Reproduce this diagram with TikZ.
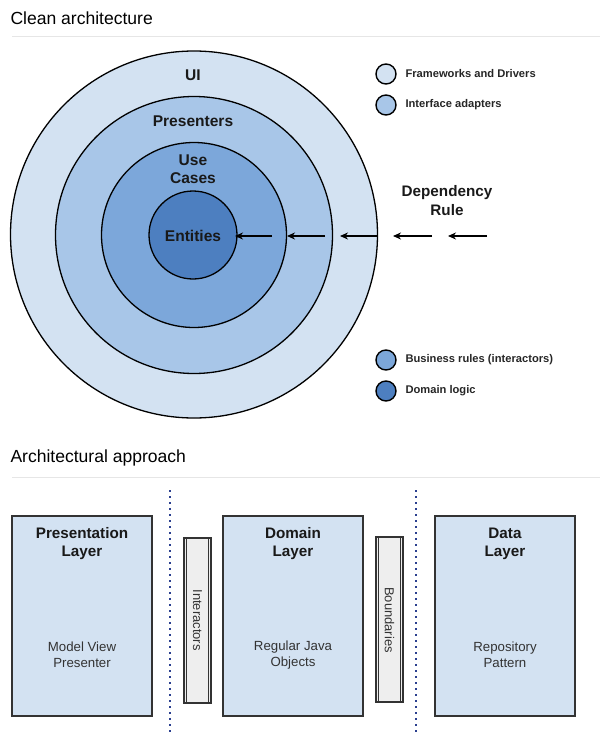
\documentclass[tikz,border=0pt]{standalone}
\usepackage{fontspec}
\setmainfont{Liberation Sans}
\usetikzlibrary{arrows.meta}
\definecolor{cUI}{HTML}{D3E2F2}
\definecolor{cPres}{HTML}{A8C6E8}
\definecolor{cUse}{HTML}{7CA7DA}
\definecolor{cEnt}{HTML}{4D7FC0}
\definecolor{cRule}{HTML}{E6E6E6}
\definecolor{cDot}{HTML}{2B3F8F}
\definecolor{cBar}{HTML}{EEEEEE}
\tikzset{
  ring/.style={circle, draw=black, line width=1.3bp, inner sep=0pt},
  ringlabel/.style={font=\fontsize{15.6}{18}\selectfont\bfseries, align=center, text=black!90},
  legdot/.style={circle, draw=black, line width=1.4bp, minimum size=20bp, inner sep=0pt},
  legtext/.style={anchor=west, font=\fontsize{11.2}{13}\selectfont\bfseries, text=black!85},
  title/.style={anchor=west, font=\fontsize{17.6}{21}\selectfont, text=black},
  depar/.style={-{Stealth[length=8bp,width=7bp]}, line width=1.3bp},
  layer/.style={draw=black!80, line width=1.2bp, fill=cUI, minimum width=140bp, minimum height=200bp, inner sep=0pt},
  layhead/.style={font=\fontsize{15.3}{18}\selectfont\bfseries, align=center, text=black!90},
  laybody/.style={font=\fontsize{13.3}{16}\selectfont, align=center, text=black!80},
  bar/.style={draw=black!80, line width=1.2bp, fill=cBar, minimum width=27bp, minimum height=165bp, inner sep=0pt},
  bartext/.style={font=\fontsize{13}{15}\selectfont, rotate=-90, text=black!80},
  sep/.style={draw=cDot, line width=2bp, dash pattern=on 1.6bp off 4.4bp},
}
\begin{document}
\begin{tikzpicture}[x=1bp,y=-1bp]
\useasboundingbox (0,0) rectangle (600,748);
% titles
\node[title] (t1) at (7,18) {Clean architecture};
\draw[cRule, line width=1bp] (12,37) -- (600,37);
\node[title] (t2) at (7,458) {Architectural approach};
\draw[cRule, line width=1bp] (12,477) -- (600,477);
% circles
\node[ring, fill=cUI, minimum size=367bp] (ui) at (194,234.5) {};
\node[ring, fill=cPres, minimum size=277bp] (pres) at (194,235) {};
\node[ring, fill=cUse, minimum size=185bp] (use) at (194,235) {};
\node[ring, fill=cEnt, minimum size=88bp] (ent) at (193,235) {};
\node[ringlabel] (lui) at (193,75) {UI};
\node[ringlabel] (lpres) at (193,121) {Presenters};
\node[ringlabel] (luse) at (193,169) {Use\\Cases};
\node[ringlabel] (lent) at (193,236) {Entities};
% dependency rule
\node[ringlabel, font=\fontsize{15.3}{19}\selectfont\bfseries] (dep) at (447,201) {Dependency\\Rule};
\coordinate (a1s) at (272,236); \coordinate (a1e) at (235,236);
\coordinate (a2s) at (325,236); \coordinate (a2e) at (287,236);
\coordinate (a3s) at (378,236); \coordinate (a3e) at (340,236);
\coordinate (a4s) at (432,236); \coordinate (a4e) at (393,236);
\coordinate (a5s) at (487,236); \coordinate (a5e) at (448,236);
\draw[depar] (a1s) -- (a1e);
\draw[depar] (a2s) -- (a2e);
\draw[depar] (a3s) -- (a3e);
\draw[depar] (a4s) -- (a4e);
\draw[depar] (a5s) -- (a5e);
% legend
\node[legdot, fill=cUI] (g1) at (386,74) {};
\node[legtext] (g1t) at (402,74) {Frameworks and Drivers};
\node[legdot, fill=cPres] (g2) at (386,105) {};
\node[legtext] (g2t) at (402,105) {Interface adapters};
\node[legdot, fill=cUse] (g3) at (386,360) {};
\node[legtext] (g3t) at (402,360) {Business rules (interactors)};
\node[legdot, fill=cEnt] (g4) at (386,391) {};
\node[legtext] (g4t) at (402,391) {Domain logic};
% separators
\coordinate (s1a) at (170,490); \coordinate (s1b) at (170,736);
\coordinate (s2a) at (416,490); \coordinate (s2b) at (416,736);
\draw[sep] (s1a) -- (s1b);
\draw[sep] (s2a) -- (s2b);
% layers
\node[layer] (pl) at (82,616) {};
\node[layhead] (plh) at (82,544) {Presentation\\Layer};
\node[laybody] (plb) at (82,655) {Model View\\Presenter};
\node[layer] (dl) at (293,616) {};
\node[layhead] (dlh) at (293,544) {Domain\\Layer};
\node[laybody] (dlb) at (293,655) {Regular Java\\Objects};
\node[layer] (dal) at (505,616) {};
\node[layhead] (dalh) at (505,544) {Data\\Layer};
\node[laybody] (dalb) at (505,655) {Repository\\Pattern};
% bars
\node[bar] (ib) at (197.5,620.5) {};
\draw[black!80, line width=1bp] ([xshift=3bp]ib.north west) -- ([xshift=3bp]ib.south west);
\draw[black!80, line width=1bp] ([xshift=-3bp]ib.north east) -- ([xshift=-3bp]ib.south east);
\node[bartext] (ibt) at (197.5,620) {Interactors};
\node[bar] (bb) at (389.5,619.5) {};
\draw[black!80, line width=1bp] ([xshift=3bp]bb.north west) -- ([xshift=3bp]bb.south west);
\draw[black!80, line width=1bp] ([xshift=-3bp]bb.north east) -- ([xshift=-3bp]bb.south east);
\node[bartext] (bbt) at (389.5,620) {Boundaries};
\end{tikzpicture}
\end{document}
